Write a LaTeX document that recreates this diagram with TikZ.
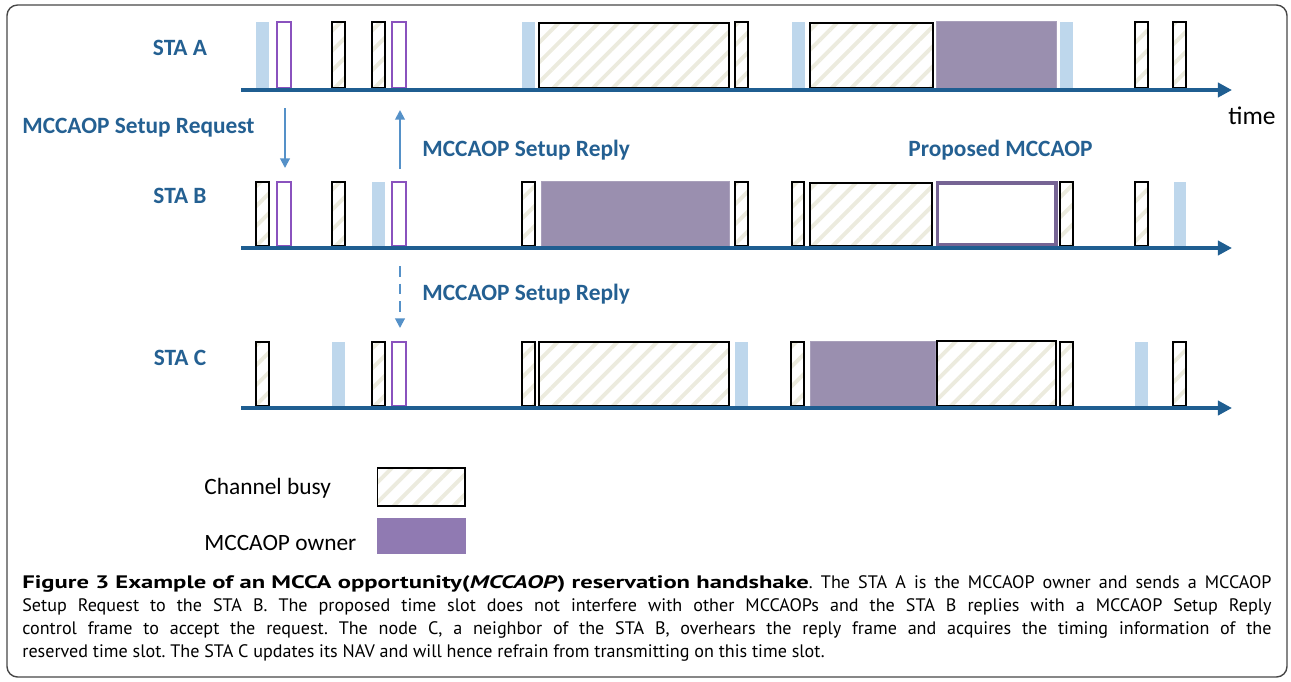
\documentclass[tikz,border=0pt]{standalone}
\usepackage{fontspec}
\setmainfont{Carlito}
\newfontfamily\capfont{PT Sans}
\usetikzlibrary{arrows.meta,patterns.meta}
\definecolor{axisc}{RGB}{31,94,145}
\definecolor{labc}{RGB}{36,96,146}
\definecolor{arrc}{RGB}{85,145,200}
\definecolor{lbc}{RGB}{190,215,236}
\definecolor{hatchc}{RGB}{236,235,222}
\definecolor{poc}{RGB}{138,82,190}
\definecolor{pfc}{RGB}{154,143,175}
\definecolor{propc}{RGB}{118,100,148}
\definecolor{legc}{RGB}{144,122,178}
\definecolor{framec}{RGB}{70,70,70}
\tikzset{
  busy/.style={draw=black, line width=1.1pt, pattern={Lines[angle=45,distance=8pt,line width=2.2pt]}, pattern color=hatchc},
  lbslot/.style={fill=lbc, draw=none},
  poslot/.style={draw=poc, line width=1.2pt, fill=white},
  pfslot/.style={fill=pfc, draw=pfc!85!white, line width=0.3pt},
  propslot/.style={draw=propc, line width=2.2pt, fill=white},
  axisline/.style={draw=axisc, line width=2.3pt, -{Triangle[width=8pt,length=8pt]}},
  msgarrow/.style={draw=arrc, line width=1.1pt, -{Triangle[width=5.5pt,length=5.5pt]}},
  stalabel/.style={font=\bfseries\fontsize{13.3pt}{15pt}\selectfont, text=labc, anchor=base, inner sep=0pt},
  msglabel/.style={font=\bfseries\fontsize{13.3pt}{15pt}\selectfont, text=labc, anchor=base west, inner sep=0pt},
  leglabel/.style={font=\fontsize{13.3pt}{15pt}\selectfont, text=black, anchor=base west, inner sep=0pt},
}
\newcommand\sbusy[4]{\draw[busy] (#1,#3) rectangle (#2,#4);}
\newcommand\slb[4]{\fill[lbslot] (#1,#3) rectangle (#2,#4);}
\newcommand\spo[4]{\draw[poslot] (#1,#3) rectangle (#2,#4);}
\newcommand\spf[4]{\fill[pfslot] (#1,#3) rectangle (#2,#4);}
\begin{document}
\begin{tikzpicture}[x=0.02cm,y=-0.02cm]
\useasboundingbox (0,0) rectangle (1291,681);
\draw[framec, line width=0.8pt, rounded corners=6pt] (7,5) rectangle (1287,677);

% axes
\coordinate (a0) at (241,90);  \coordinate (a1) at (1232,90);
\coordinate (b0) at (241,248); \coordinate (b1) at (1232,248);
\coordinate (c0) at (241,408); \coordinate (c1) at (1232,408);

% STA A row (top 22, bottom 88)
\slb{256}{269}{22}{88}
\spo{277}{291}{22}{88}
\sbusy{332}{345}{22}{88}
\sbusy{372}{385}{22}{88}
\spo{392}{406}{22}{88}
\slb{522}{535}{22}{88}
\sbusy{539}{729}{23}{88}
\sbusy{735}{748}{22}{88}
\slb{792}{805}{22}{88}
\sbusy{810}{933}{23}{88}
\spf{936}{1056}{21}{88}
\slb{1060}{1073}{22}{88}
\sbusy{1135}{1148}{22}{88}
\sbusy{1173}{1186}{22}{88}

% STA B row (top 182, bottom 246)
\sbusy{256}{269}{182}{246}
\spo{277}{291}{182}{246}
\sbusy{332}{345}{182}{246}
\slb{372}{385}{182}{246}
\spo{392}{406}{182}{246}
\sbusy{522}{535}{182}{246}
\spf{541}{729}{181}{246}
\sbusy{735}{748}{182}{246}
\sbusy{792}{804}{182}{246}
\sbusy{810}{932}{183}{246}
\draw[propslot] (937.5,183) rectangle (1056,245);
\sbusy{1060}{1073}{182}{246}
\sbusy{1135}{1148}{182}{246}
\slb{1174}{1186}{182}{246}

% STA C row (top 342, bottom 406)
\sbusy{256}{269}{342}{406}
\slb{332}{345}{342}{406}
\sbusy{372}{385}{342}{406}
\spo{392}{406}{342}{406}
\sbusy{522}{535}{342}{406}
\sbusy{539}{729}{342}{406}
\slb{735}{748}{342}{406}
\sbusy{791}{804}{342}{406}
\spf{810}{935}{341}{406}
\sbusy{937}{1056}{341}{406}
\sbusy{1060}{1073}{342}{406}
\slb{1135}{1148}{342}{406}
\sbusy{1173}{1186}{342}{406}

\draw[axisline] (a0) -- (a1);
\draw[axisline] (b0) -- (b1);
\draw[axisline] (c0) -- (c1);

% labels
\node[stalabel] (staA) at (180,55) {STA A};
\node[stalabel] (staB) at (180,203) {STA B};
\node[stalabel] (staC) at (180,365) {STA C};
\node[msglabel] (reqlab) at (22,133) {MCCAOP Setup Request};
\node[msglabel] (replab) at (422,156) {MCCAOP Setup Reply};
\node[msglabel] (proplab) at (908,156) {Proposed MCCAOP};
\node[msglabel] (replab2) at (422,300) {MCCAOP Setup Reply};
\node[font=\fontsize{14.5pt}{16pt}\selectfont, anchor=base west, inner sep=0pt] (timelab) at (1228,124) {time};

% message arrows
\coordinate (reqS) at (285,108); \coordinate (reqE) at (285,168);
\coordinate (repS) at (400,169); \coordinate (repE) at (400,110);
\coordinate (ovS) at (400,266); \coordinate (ovE) at (400,328);
\draw[msgarrow] (reqS) -- (reqE);
\draw[msgarrow] (repS) -- (repE);
\draw[msgarrow, dash pattern=on 6pt off 4pt] (ovS) -- (ovE);

% legend
\node[leglabel] (legbusy) at (204,494) {Channel busy};
\node[leglabel] (legown) at (204,550) {MCCAOP owner};
\draw[busy] (377.5,468) rectangle (465,506);
\fill[legc] (377,518) rectangle (466,554);

% caption
\node[anchor=north west, inner sep=0pt, text width=711pt, align=justify,
      font=\capfont\fontsize{10.3pt}{13.1pt}\selectfont\frenchspacing] (caption) at (22,575)
{\scalebox{1.36}[1]{\bfseries Figure 3 Example of an MCCA opportunity(\textit{MCCAOP}) reservation handshake}. The STA A is the MCCAOP owner and sends a MCCAOP\linebreak
Setup Request to the STA B. The proposed time slot does not interfere with other MCCAOPs and the STA B replies with a MCCAOP Setup Reply\linebreak
control frame to accept the request. The node C, a neighbor of the STA B, overhears the reply frame and acquires the timing information of the\linebreak
reserved time slot. The STA C updates its NAV and will hence refrain from transmitting on this time slot.};
\end{tikzpicture}
\end{document}
